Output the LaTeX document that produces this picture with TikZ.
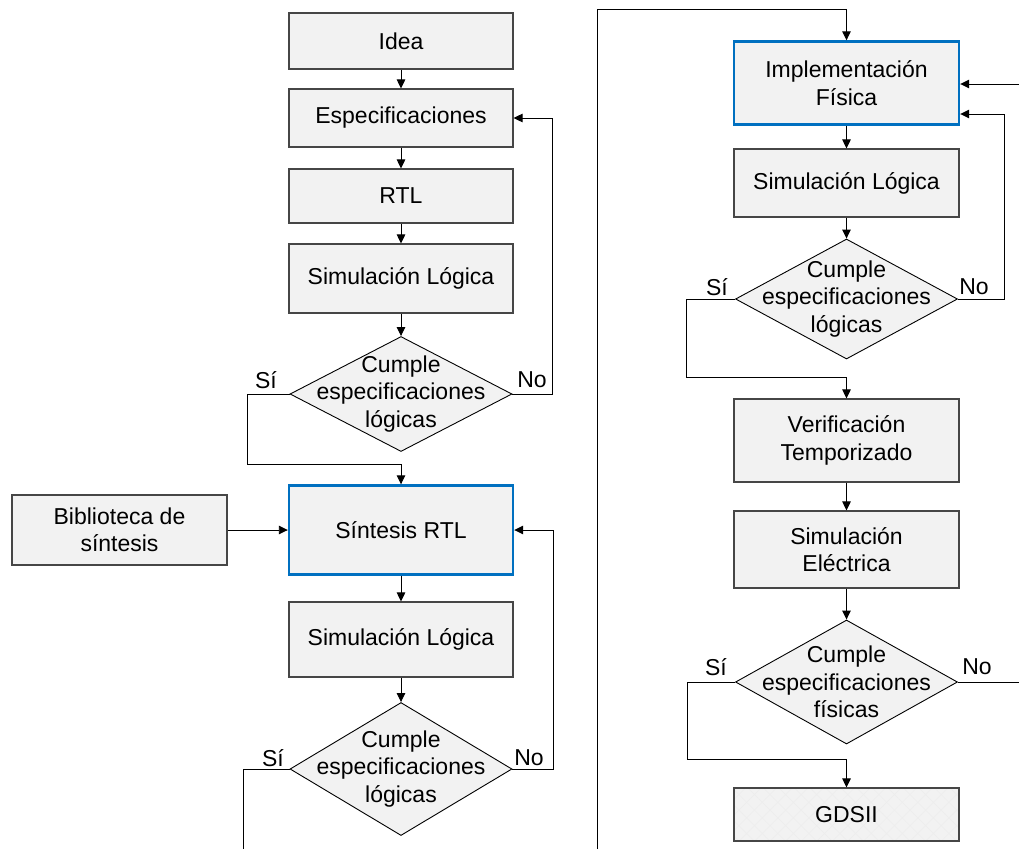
\documentclass[tikz,border=0pt]{standalone}
\usepackage{fontspec}
\setmainfont{Liberation Sans}
\usetikzlibrary{shapes.geometric,arrows.meta,calc,patterns.meta}
\definecolor{boxfill}{RGB}{242,242,242}
\definecolor{boxline}{RGB}{70,70,70}
\definecolor{hilite}{RGB}{0,112,192}
\begin{document}
\begin{tikzpicture}[x=1pt,y=-1pt,
  font=\fontsize{23}{27.5}\selectfont,
  box/.style={draw=boxline, line width=1.1pt, fill=boxfill, align=center,
    inner sep=0pt, minimum width=224pt},
  keybox/.style={box, draw=hilite, line width=2.4pt},
  gdsbox/.style={box, fill=none,
    preaction={fill=boxfill},
    preaction={pattern={Lines[angle=45,distance=11pt,line width=0.5pt]}, pattern color=black!7},
    preaction={pattern={Lines[angle=-45,distance=11pt,line width=0.5pt]}, pattern color=black!7}},
  test/.style={diamond, draw=black, line width=0.9pt, fill=boxfill, inner sep=0pt,
    minimum width=222pt},
  tag/.style={inner sep=0pt},
  arr/.style={draw=black, line width=0.9pt, -{Triangle[length=9pt,width=8.5pt]}},
  wire/.style={draw=black, line width=0.9pt},
  ]
\useasboundingbox (0,0) rectangle (1019,849);

% ---- left column: specification and logic synthesis ----
\node[box, minimum height=56pt] (idea) at (401,41) {Idea};
\node[box, minimum height=58pt] (espec) at (401,118) {Especificaciones};
\node[box, minimum height=54pt] (rtl) at (401,196) {RTL};
\node[box, minimum height=69pt] (simA) at (401,278.5) {Simulación Lógica};
\node[test, minimum height=115pt,
  label={[align=center]center:Cumple\\especificaciones\\lógicas}] (dA) at (401,394) {};
\node[keybox, minimum height=89pt] (sint) at (401,530) {Síntesis RTL};
\node[box, minimum width=215pt, minimum height=70pt] (bib) at (119.5,530) {Biblioteca de\\síntesis};
\node[box, minimum height=75pt] (simB) at (401,639.5) {Simulación Lógica};
\node[test, minimum height=133pt,
  label={[align=center]center:Cumple\\especificaciones\\lógicas}] (dB) at (401,769) {};

\node[tag] (siA) at (266,380) {Sí};
\node[tag] (noA) at (532,380) {No};
\node[tag] (siB) at (273,758) {Sí};
\node[tag] (noB) at (529,758) {No};

\draw[arr] (idea) -- (espec);
\draw[arr] (espec) -- (rtl);
\draw[arr] (rtl) -- (simA);
\draw[arr] (simA) -- (dA.north);
\draw[arr] (dA.east) -- ++(40,0) |- (espec.east);
\draw[arr] (dA.west) -- ++(-42,0) |- ($(sint.north)+(0,-20)$) -- (sint.north);
\draw[arr] (bib.east) -- (sint.west);
\draw[arr] (sint) -- (simB);
\draw[arr] (simB) -- (dB.north);
\draw[arr] (dB.east) -- ++(41,0) |- (sint.east);
\coordinate (downL) at (243,849);
\draw[wire] (dB.west) -| (downL);

% ---- right column: physical implementation ----
\node[keybox, minimum width=225pt, minimum height=83pt,
  align=center] (impl) at (846.5,83) {Implementación\\Física};
\node[box, minimum width=225pt, minimum height=68pt] (simC) at (846.5,183) {Simulación Lógica};
\node[test, minimum height=120pt,
  label={[align=center]center:Cumple\\especificaciones\\lógicas}] (dC) at (846.5,299) {};
\node[box, minimum width=225pt, minimum height=83pt] (verif) at (846.5,440.5) {Verificación\\Temporizado};
\node[box, minimum width=225pt, minimum height=77pt] (simE) at (846.5,549.5) {Simulación\\Eléctrica};
\node[test, minimum height=124pt,
  label={[align=center]center:Cumple\\especificaciones\\físicas}] (dD) at (846.5,682) {};
\node[gdsbox, minimum width=225pt, minimum height=53pt] (gds) at (846.5,814.5) {GDSII};

\node[tag] (siC) at (717,287) {Sí};
\node[tag] (noC) at (974,287) {No};
\node[tag] (siD) at (716,667) {Sí};
\node[tag] (noD) at (977,667) {No};

\coordinate (upR) at (597,849);
\coordinate (backR) at (1019,84);
\coordinate (outR) at (1019,682);
\draw[arr] (upR) |- ($(impl.north)+(0,-31)$) -- (impl.north);
\draw[arr] (backR) -- (backR -| impl.east);
\draw[arr] (impl) -- (simC);
\draw[arr] (simC) -- (dC.north);
\draw[arr] (dC.east) -- ++(46,0) |- ($(impl.east)+(0,31)$);
\draw[arr] (dC.west) -- ++(-49,0) |- ($(verif.north)+(0,-21)$) -- (verif.north);
\draw[arr] (verif) -- (simE);
\draw[arr] (simE) -- (dD.north);
\draw[arr] (dD.west) -- ++(-48,0) |- ($(gds.north)+(0,-28)$) -- (gds.north);
\draw[wire] (dD.east) -- (outR);
\end{tikzpicture}
\end{document}
